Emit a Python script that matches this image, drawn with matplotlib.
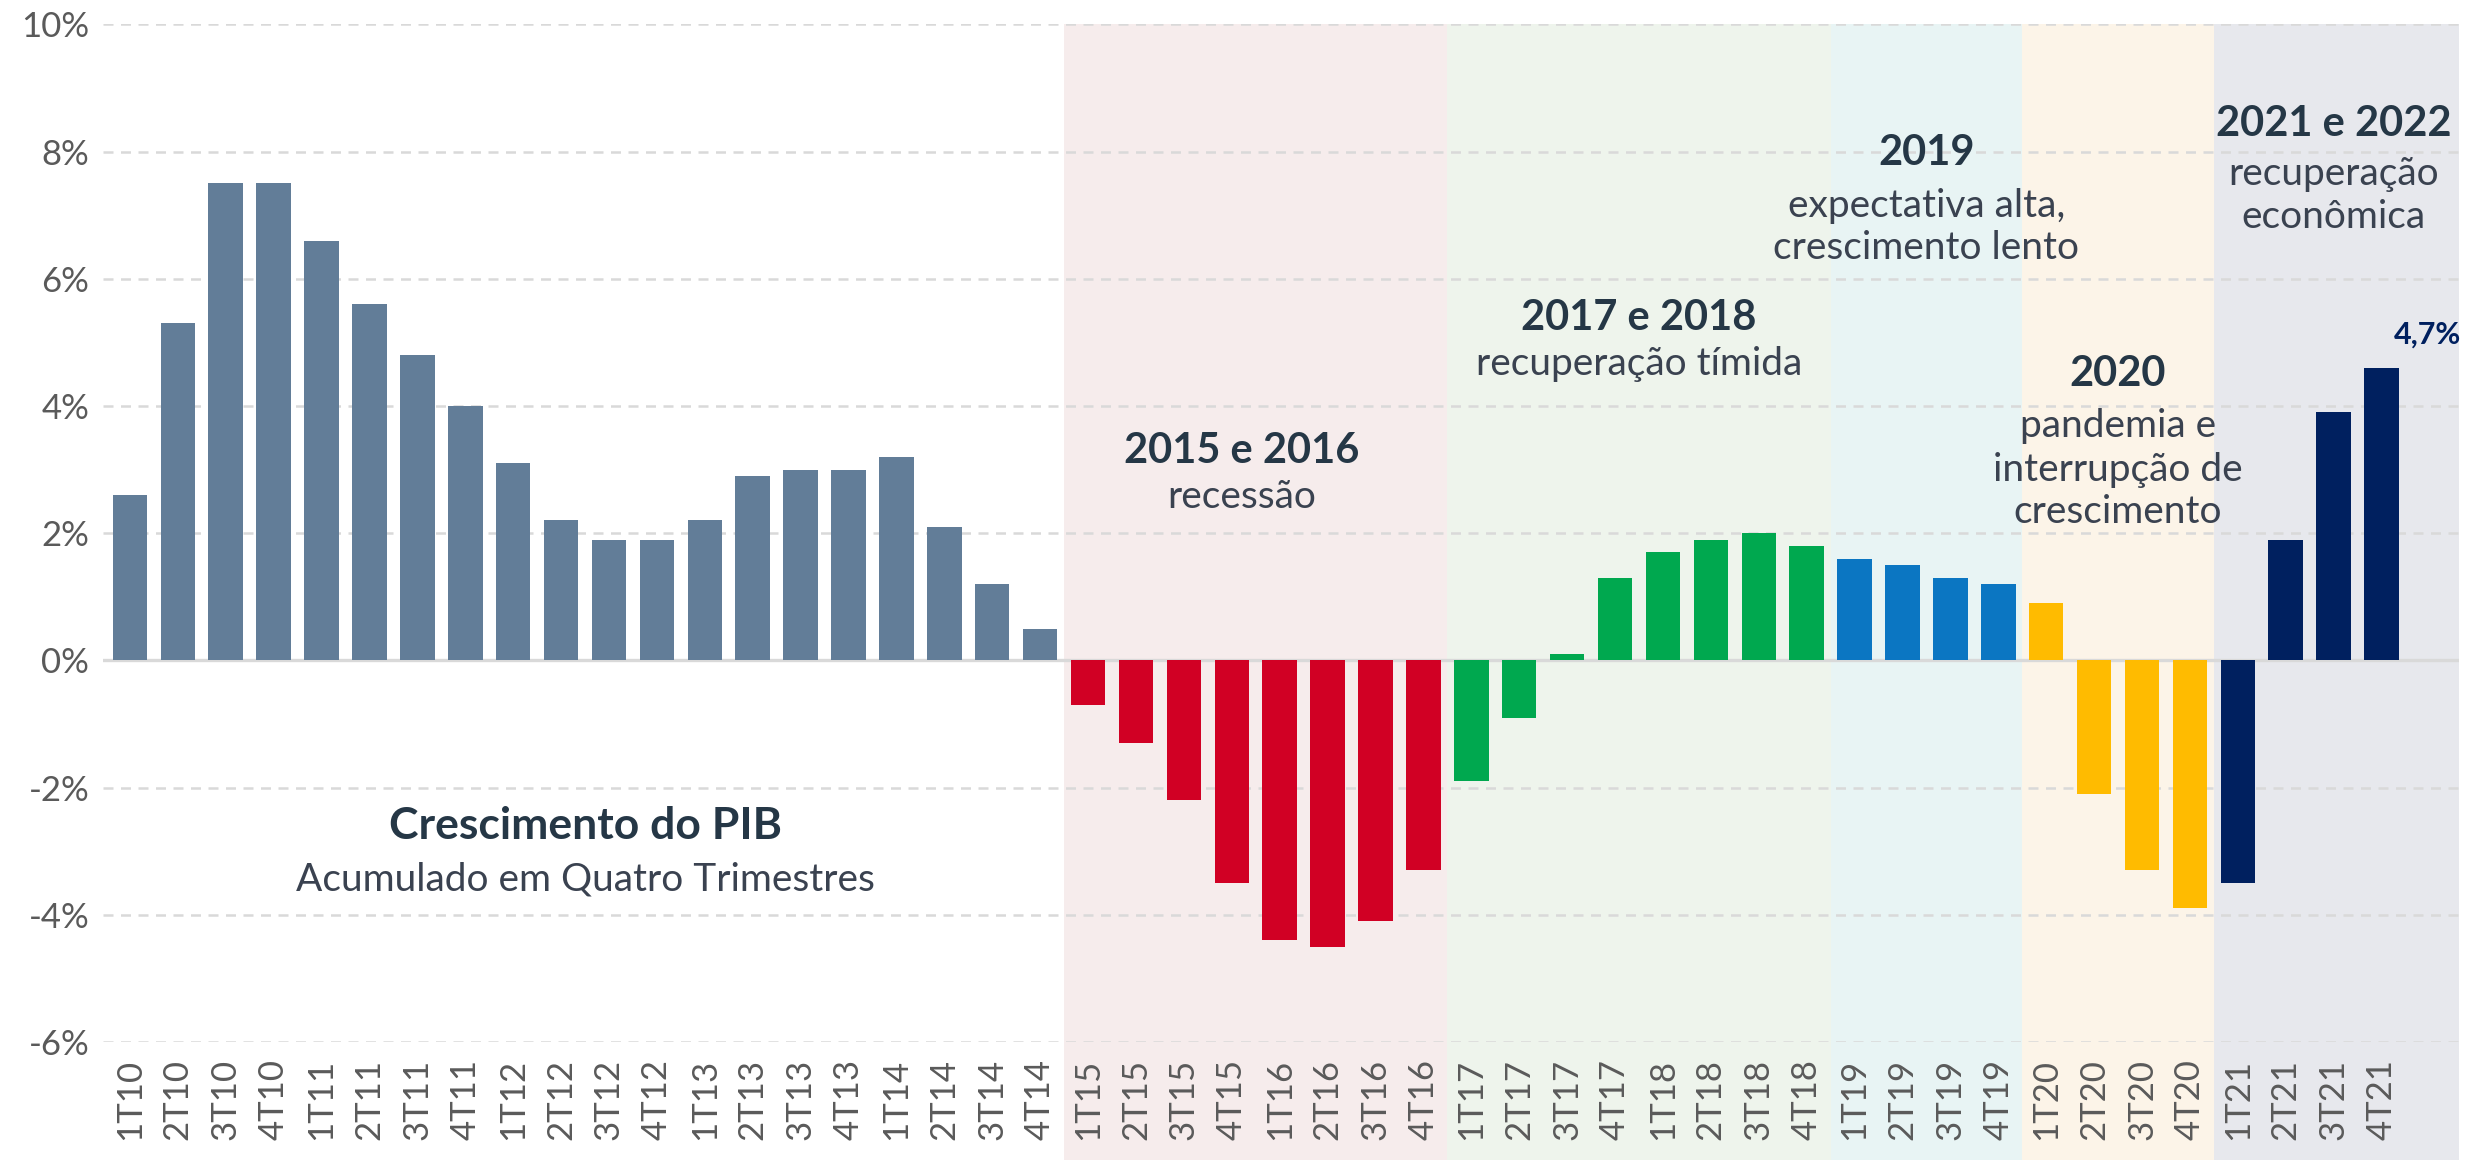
import matplotlib
matplotlib.use('Agg')
from matplotlib import pyplot as plt
import numpy as np

plt.rcParams['font.family'] = ['Lato', 'DejaVu Sans']

# quarters 1T10 .. 4T21
quarters = [f'{q}T{y}' for y in range(10, 22) for q in range(1, 5)]
# GDP growth, accumulated in four quarters (%)
growth = [
    2.6, 5.3, 7.5, 7.5, 6.6, 5.6, 4.8, 4.0, 3.1, 2.2, 1.9, 1.9,
    2.2, 2.9, 3.0, 3.0, 3.2, 2.1, 1.2, 0.5,
    -0.7, -1.3, -2.2, -3.5, -4.4, -4.5, -4.1, -3.3,
    -1.9, -0.9, 0.1, 1.3, 1.7, 1.9, 2.0, 1.8,
    1.6, 1.5, 1.3, 1.2,
    0.9, -2.1, -3.3, -3.9,
    -3.5, 1.9, 3.9, 4.6,
]
# periods: (first quarter, last quarter)
periods = [('1T15', '4T16'), ('1T17', '4T18'), ('1T19', '4T19'),
           ('1T20', '4T20'), ('1T21', '4T21')]
shade_cols = ['#f6ecec', '#eef4ec', '#e8f4f4', '#fcf4e8', '#e7e8ed']
bar_cols_period = ['#d10024', '#00a84f', '#0b76c2', '#ffbb00', '#00205f']
base_col = '#627d98'

x = np.arange(len(quarters))
colors = [base_col] * len(quarters)
for (a, b), c in zip(periods, bar_cols_period):
    for i in range(quarters.index(a), quarters.index(b) + 1):
        colors[i] = c

fig = plt.figure(figsize=(12.42, 5.8), dpi=200)
ax = fig.add_axes([0.0415, 0.1017, 0.9485, 0.8773])

for k, ((a, b), c) in enumerate(zip(periods, shade_cols)):
    x0 = quarters.index(a) - 0.5
    x1 = quarters.index(b) + 0.5 if k < len(periods) - 1 else len(quarters) + 0.62
    ax.axvspan(x0, x1, ymin=-0.2, ymax=1, color=c, zorder=0, clip_on=False, lw=0)

ax.bar(x, growth, width=0.72, color=colors, zorder=2)
ax.axhline(0, color='#d9d9d9', lw=1.2, zorder=1)

ax.set_xlim(-0.56, len(quarters) + 0.62)
ax.set_ylim(-6, 10)
ax.set_yticks(np.arange(-6, 11, 2))
ax.set_yticklabels([f'{v}%' for v in range(-6, 11, 2)])
ax.set_xticks(x)
ax.set_xticklabels(quarters, rotation=90)
ax.tick_params(axis='both', length=0, labelcolor='#5a5a5a', labelsize=12.5)
ax.tick_params(axis='x', pad=6)
ax.tick_params(axis='y', pad=5)
ax.set_axisbelow(True)
ax.yaxis.grid(True, ls=(0, (4, 3)), color='#d9d9d9', lw=0.9)
for s in ax.spines.values():
    s.set_visible(False)
ax.patch.set_alpha(0)

head = dict(ha='center', va='center', color='#253746', fontweight='bold', fontsize=15)
sub = dict(ha='center', va='center', color='#3a4250', fontsize=14)

ax.text(9.5, -2.6, 'Crescimento do PIB', **{**head, 'fontsize': 16})
ax.text(9.5, -3.45, 'Acumulado em Quatro Trimestres', **sub)

ax.text(23.2, 3.29, '2015 e 2016', **head)
ax.text(23.2, 2.57, 'recessão', **sub)

ax.text(31.5, 5.38, '2017 e 2018', **head)
ax.text(31.5, 4.66, 'recuperação tímida', **sub)

ax.text(37.5, 7.97, '2019', **head)
ax.text(37.5, 7.15, 'expectativa alta,', **sub)
ax.text(37.5, 6.48, 'crescimento lento', **sub)

ax.text(41.5, 4.5, '2020', **head)
ax.text(41.5, 3.69, 'pandemia e', **sub)
ax.text(41.5, 2.99, 'interrupção de', **sub)
ax.text(41.5, 2.34, 'crescimento', **sub)

ax.text(46.0, 8.44, '2021 e 2022', **head)
ax.text(46.0, 7.65, 'recuperação', **sub)
ax.text(46.0, 6.97, 'econômica', **sub)

ax.text(len(quarters) - 0.05, 5.13, '4,7%', ha='center', va='center',
        color='#00205f', fontweight='bold', fontsize=11)

fig.savefig('out.png', dpi=200)
